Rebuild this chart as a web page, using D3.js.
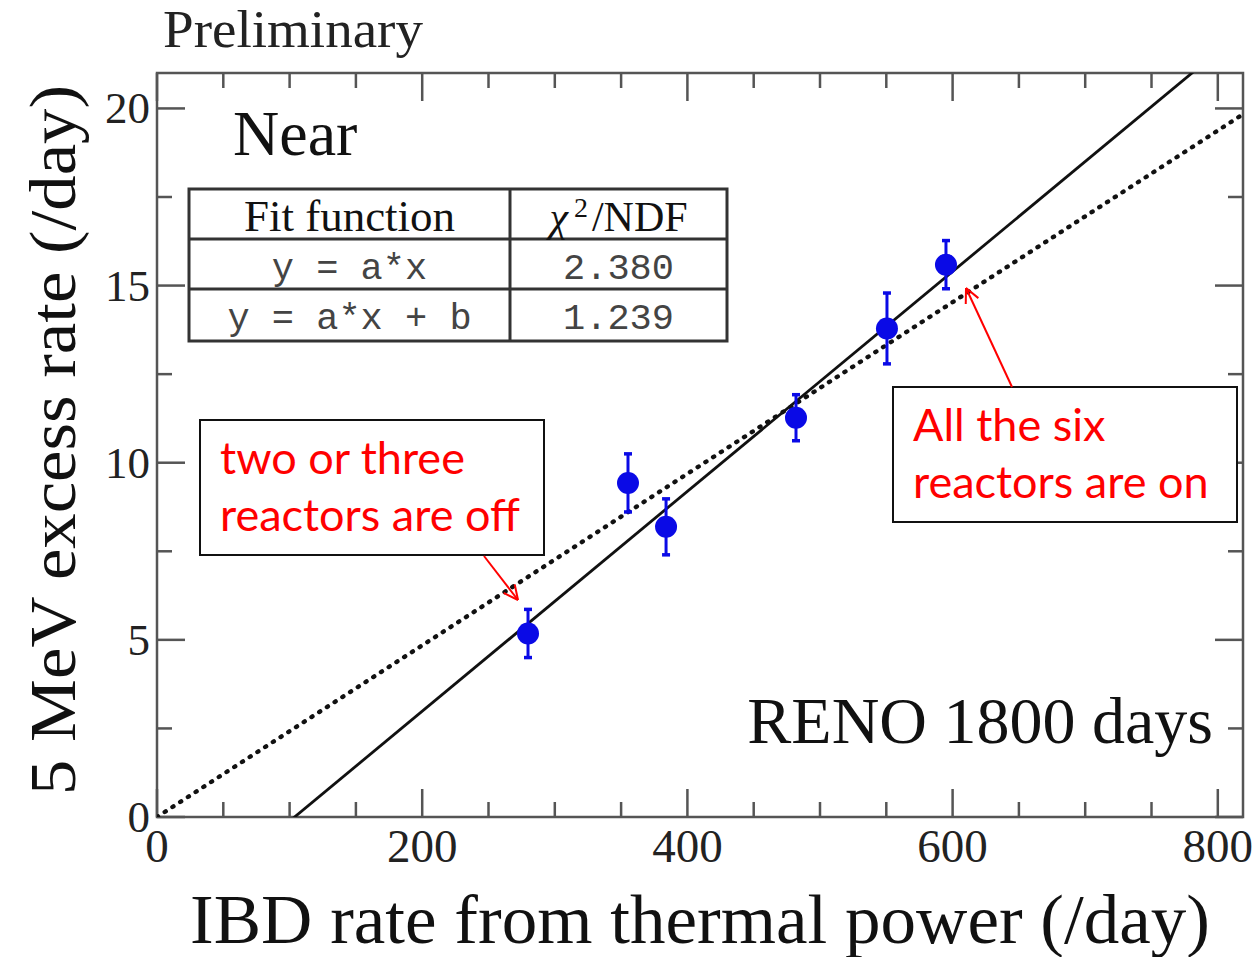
<!DOCTYPE html>
<html>
<head>
<meta charset="utf-8">
<script src="https://cdn.jsdelivr.net/npm/d3@7"></script>
<style>
  body { margin: 0; background: #fff; }
  svg { display: block; }
</style>
</head>
<body>
<svg id="chart" width="1256" height="957"></svg>
<script>
// Near detector: 5 MeV excess vs IBD rate, per reactor-status period
const ibdRate    = [279.8, 355.2, 383.9, 481.9, 550.5, 595.0];
const excessRate = [5.18, 9.43, 8.19, 11.27, 13.79, 15.59];
const excessErr  = [0.68, 0.82, 0.79, 0.65, 1.00, 0.68];

// Fit results
const fitNames  = ["y = a*x", "y = a*x + b"];
const fitChi2   = ["2.380", "1.239"];
const fitSlope  = [0.02422, 0.03103];
const fitOffset = [0, -3.22];

const xMajorTicks = [0, 200, 400, 600, 800];
const xMinorTicks = [50, 100, 150, 250, 300, 350, 450, 500, 550, 650, 700, 750];
const yMajorTicks = [0, 5, 10, 15, 20];
const yMinorTicks = [2.5, 7.5, 12.5, 17.5];

const svg = d3.select("#chart");
const L = 157, R = 1243, T = 73, B = 817;
const x = d3.scaleLinear().domain([0, 819]).range([L, R]);
const y = d3.scaleLinear().domain([0, 21]).range([B, T]);

const serif = "'Liberation Serif','Times New Roman',serif";
const frameColor = "#555";
const majorLen = 28, minorLen = 15;

svg.append("defs").append("clipPath").attr("id", "plotClip")
  .append("rect").attr("x", L).attr("y", T).attr("width", R - L).attr("height", B - T);

// Ticks (inward on all four sides)
const ticks = svg.append("g").attr("stroke", frameColor).attr("stroke-width", 2.5);
function xTick(v, len) {
  ticks.append("line").attr("x1", x(v)).attr("x2", x(v)).attr("y1", B).attr("y2", B - len);
  ticks.append("line").attr("x1", x(v)).attr("x2", x(v)).attr("y1", T).attr("y2", T + len);
}
function yTick(v, len) {
  ticks.append("line").attr("y1", y(v)).attr("y2", y(v)).attr("x1", L).attr("x2", L + len);
  ticks.append("line").attr("y1", y(v)).attr("y2", y(v)).attr("x1", R).attr("x2", R - len);
}
xMajorTicks.forEach(v => xTick(v, majorLen));
xMinorTicks.forEach(v => xTick(v, minorLen));
yMajorTicks.forEach(v => yTick(v, majorLen));
yMinorTicks.forEach(v => yTick(v, minorLen));

// Frame
svg.append("rect").attr("x", L).attr("y", T).attr("width", R - L).attr("height", B - T)
  .attr("fill", "none").attr("stroke", frameColor).attr("stroke-width", 2.5);

// Tick labels
svg.append("g").selectAll("text").data(xMajorTicks).join("text")
  .attr("x", d => x(d)).attr("y", 862)
  .attr("text-anchor", "middle")
  .attr("font-family", serif).attr("font-size", 47).attr("fill", "#222")
  .text(d => d);
svg.append("g").selectAll("text").data(yMajorTicks).join("text")
  .attr("x", 150).attr("y", d => y(d) + 15)
  .attr("text-anchor", "end")
  .attr("font-family", serif).attr("font-size", 45).attr("fill", "#222")
  .text(d => d);

// Axis titles
svg.append("text")
  .attr("x", 700).attr("y", 943)
  .attr("text-anchor", "middle")
  .attr("font-family", serif).attr("font-size", 70).attr("fill", "#111")
  .attr("textLength", 1020).attr("lengthAdjust", "spacingAndGlyphs")
  .text("IBD rate from thermal power (/day)");
svg.append("text")
  .attr("transform", "translate(75,440) rotate(-90)")
  .attr("text-anchor", "middle")
  .attr("font-family", serif).attr("font-size", 66).attr("fill", "#111")
  .attr("textLength", 710).attr("lengthAdjust", "spacingAndGlyphs")
  .text("5 MeV excess rate (/day)");

svg.append("text").attr("x", 163).attr("y", 47)
  .attr("font-family", serif).attr("font-size", 52).attr("fill", "#222")
  .attr("textLength", 260).attr("lengthAdjust", "spacingAndGlyphs")
  .text("Preliminary");

// Plot-area labels
svg.append("text").attr("x", 233).attr("y", 155)
  .attr("font-family", serif).attr("font-size", 64).attr("fill", "#111")
  .text("Near");
svg.append("text").attr("x", 1213).attr("y", 743)
  .attr("text-anchor", "end")
  .attr("font-family", serif).attr("font-size", 66).attr("fill", "#111")
  .text("RENO 1800 days");

// Fit lines
const plot = svg.append("g").attr("clip-path", "url(#plotClip)");
const lineGen = d3.line().x(d => x(d[0])).y(d => y(d[1]));
const fitLine = i => [[0, fitOffset[i]], [819, fitSlope[i] * 819 + fitOffset[i]]];
plot.append("path").datum(fitLine(0)).attr("d", lineGen)
  .attr("fill", "none").attr("stroke", "#111").attr("stroke-width", 4.4)
  .attr("stroke-linecap", "round").attr("stroke-dasharray", "1.2 8");
plot.append("path").datum([[-200, fitSlope[1] * -200 + fitOffset[1]], [900, fitSlope[1] * 900 + fitOffset[1]]])
  .attr("d", lineGen)
  .attr("fill", "none").attr("stroke", "#111").attr("stroke-width", 2.8);

// Data points with error bars
const blue = "#0a0ae6";
const pts = d3.range(ibdRate.length).map(i => ({ x: ibdRate[i], y: excessRate[i], e: excessErr[i] }));
const pg = svg.append("g");
pg.selectAll("line.err").data(pts).join("line").attr("class", "err")
  .attr("x1", d => x(d.x)).attr("x2", d => x(d.x))
  .attr("y1", d => y(d.y - d.e)).attr("y2", d => y(d.y + d.e))
  .attr("stroke", blue).attr("stroke-width", 3);
pg.selectAll("line.capHi").data(pts).join("line").attr("class", "capHi")
  .attr("x1", d => x(d.x) - 4).attr("x2", d => x(d.x) + 4)
  .attr("y1", d => y(d.y + d.e)).attr("y2", d => y(d.y + d.e))
  .attr("stroke", blue).attr("stroke-width", 3.5);
pg.selectAll("line.capLo").data(pts).join("line").attr("class", "capLo")
  .attr("x1", d => x(d.x) - 4).attr("x2", d => x(d.x) + 4)
  .attr("y1", d => y(d.y - d.e)).attr("y2", d => y(d.y - d.e))
  .attr("stroke", blue).attr("stroke-width", 3.5);
pg.selectAll("circle").data(pts).join("circle")
  .attr("cx", d => x(d.x)).attr("cy", d => y(d.y)).attr("r", 11)
  .attr("fill", blue);

// Fit summary table
const tbl = svg.append("g");
const tX = [189, 510, 727], tY = [189, 239, 289, 341];
tbl.append("rect").attr("x", tX[0]).attr("y", tY[0])
  .attr("width", tX[2] - tX[0]).attr("height", tY[3] - tY[0])
  .attr("fill", "#fff").attr("stroke", "#333").attr("stroke-width", 3);
[tY[1], tY[2]].forEach(v => tbl.append("line").attr("x1", tX[0]).attr("x2", tX[2])
  .attr("y1", v).attr("y2", v).attr("stroke", "#333").attr("stroke-width", 3));
tbl.append("line").attr("x1", tX[1]).attr("x2", tX[1]).attr("y1", tY[0]).attr("y2", tY[3])
  .attr("stroke", "#333").attr("stroke-width", 3);
const c1 = (tX[0] + tX[1]) / 2, c2 = (tX[1] + tX[2]) / 2;
tbl.append("text").attr("x", c1).attr("y", 231).attr("text-anchor", "middle")
  .attr("font-family", serif).attr("font-size", 45).attr("fill", "#111").text("Fit function");
const head = tbl.append("text").attr("x", c2).attr("y", 231).attr("text-anchor", "middle")
  .attr("font-family", serif).attr("font-size", 42).attr("fill", "#111");
head.append("tspan").attr("font-style", "italic").text("χ");
head.append("tspan").attr("font-size", 28).attr("dy", -14).attr("dx", 6).text("2");
head.append("tspan").attr("dy", 14).attr("dx", 4).text("/NDF");
const mono = "'Liberation Mono','DejaVu Sans Mono',monospace";
fitNames.forEach((t, i) => {
  tbl.append("text").attr("x", c1).attr("y", tY[i + 1] + 40).attr("text-anchor", "middle")
    .attr("font-family", mono).attr("font-size", 37).attr("fill", "#444").text(t);
  tbl.append("text").attr("x", c2).attr("y", tY[i + 1] + 40).attr("text-anchor", "middle")
    .attr("font-family", mono).attr("font-size", 37).attr("fill", "#444").text(fitChi2[i]);
});

// Callouts
const red = "#ff0000";
const sans = "Lato,'Open Sans',sans-serif";
function callout(box, lines, from, to) {
  const g = svg.append("g");
  g.append("rect").attr("x", box[0]).attr("y", box[1]).attr("width", box[2]).attr("height", box[3])
    .attr("fill", "#fff").attr("stroke", "#111").attr("stroke-width", 2);
  lines.forEach((t, i) => g.append("text")
    .attr("x", box[0] + 20).attr("y", box[1] + 54 + i * 57)
    .attr("font-family", sans).attr("font-size", 45).attr("fill", red).text(t));
  g.append("line").attr("x1", from[0]).attr("y1", from[1]).attr("x2", to[0]).attr("y2", to[1])
    .attr("stroke", red).attr("stroke-width", 2);
  const ang = Math.atan2(to[1] - from[1], to[0] - from[0]);
  const hl = 16, ha = 0.45;
  [ang + Math.PI - ha, ang + Math.PI + ha].forEach(a => g.append("line")
    .attr("x1", to[0]).attr("y1", to[1])
    .attr("x2", to[0] + hl * Math.cos(a)).attr("y2", to[1] + hl * Math.sin(a))
    .attr("stroke", red).attr("stroke-width", 2));
}
callout([200, 420, 344, 135], ["two or three", "reactors are off"], [484, 556], [518, 600]);
callout([893, 387, 344, 135], ["All the six", "reactors are on"], [1012, 387], [966, 288]);
</script>
</body>
</html>
